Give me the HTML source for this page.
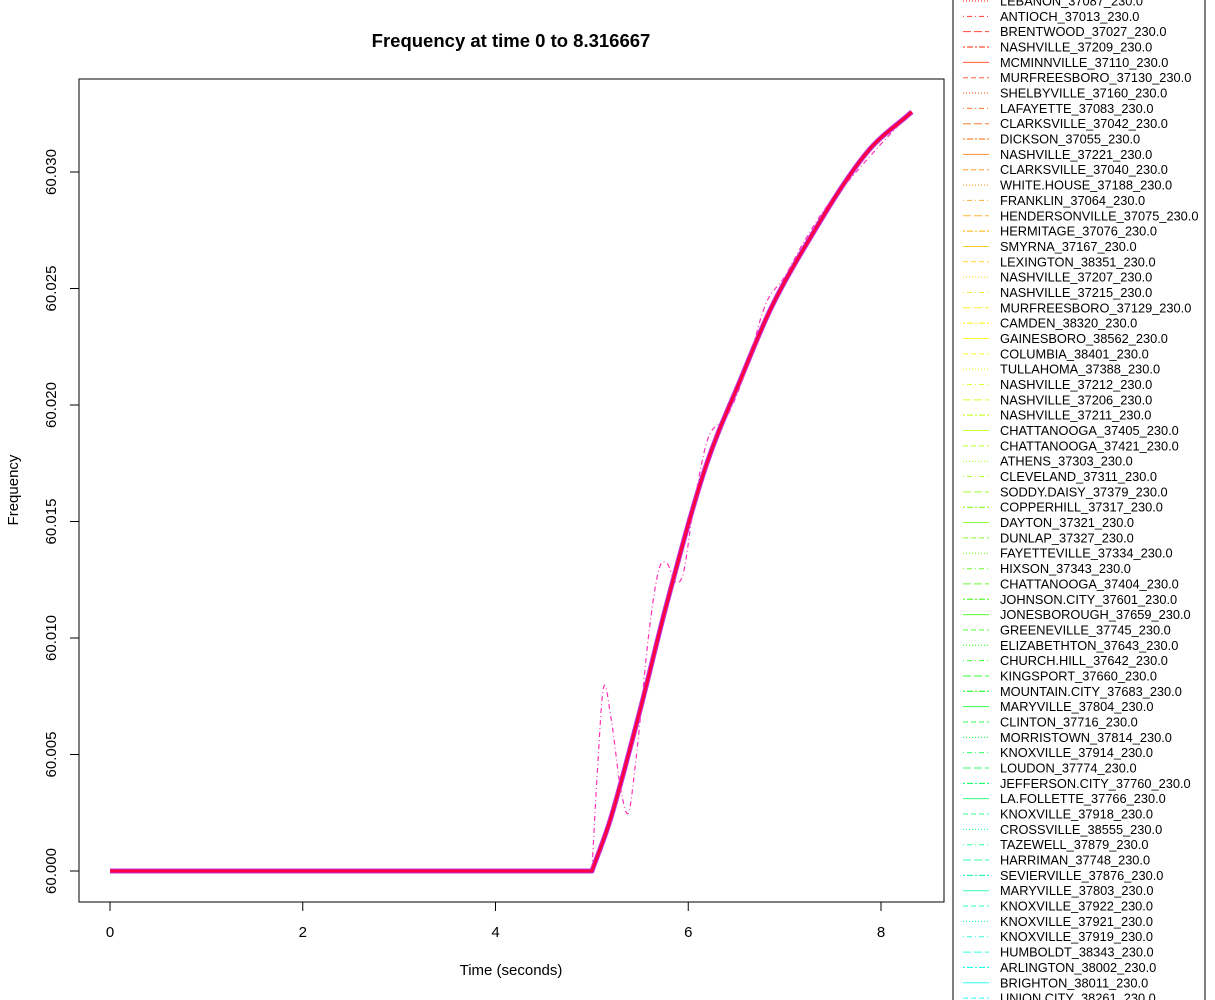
<!DOCTYPE html>
<html><head><meta charset="utf-8"><style>
html,body{margin:0;padding:0;background:#fff;width:1215px;height:1000px;overflow:hidden}
svg{display:block;font-family:"Liberation Sans",Arial,sans-serif}
</style></head><body>
<svg id="chart" width="1215" height="1000" viewBox="0 0 1215 1000">
<text x="511" y="47" text-anchor="middle" font-size="18.5" font-weight="bold">Frequency at time 0 to 8.316667</text>
<rect x="79" y="79" width="865" height="823" fill="none" stroke="#000" stroke-width="1"/>
<g id="xaxis"></g>
<g id="yaxis"></g>
<text x="511" y="975" text-anchor="middle" font-size="15">Time (seconds)</text>
<text transform="translate(18,490) rotate(-90)" text-anchor="middle" font-size="15">Frequency</text>
<g id="series"></g>
<rect x="953" y="-5" width="252" height="1010" fill="#fff" stroke="#000" stroke-width="1"/>
<g id="legend"></g>
</svg>
<script>
const xTicks=[0,2,4,6,8];
const yTicks=[60.000,60.005,60.010,60.015,60.020,60.025,60.030];
const yTickLabels=["60.000","60.005","60.010","60.015","60.020","60.025","60.030"];
const mainTime=[0,5.0,5.19,5.50,5.76,6.18,6.54,6.85,7.19,7.85,8.32];
const mainFreq=[60,60,60.00219,60.00691,60.0112,60.01734,60.02107,60.02408,60.02665,60.03082,60.03258];
const outTime=[0,5.0,5.06,5.12,5.2,5.3,5.38,5.45,5.6,5.7,5.78,5.87,5.95,6.05,6.2,6.4,6.6,6.8,7.0,7.2,7.45,7.7,8.0,8.32];
const outFreq=[60,60,60.0045,60.00785,60.0065,60.0035,60.0025,60.0045,60.0105,60.0130,60.0132,60.0124,60.0128,60.0155,60.0185,60.0195,60.0215,60.0243,60.0255,60.0270,60.0286,60.0298,60.0312,60.0326];
const legendNames=["LEBANON_37087_230.0","ANTIOCH_37013_230.0","BRENTWOOD_37027_230.0","NASHVILLE_37209_230.0","MCMINNVILLE_37110_230.0","MURFREESBORO_37130_230.0","SHELBYVILLE_37160_230.0","LAFAYETTE_37083_230.0","CLARKSVILLE_37042_230.0","DICKSON_37055_230.0","NASHVILLE_37221_230.0","CLARKSVILLE_37040_230.0","WHITE.HOUSE_37188_230.0","FRANKLIN_37064_230.0","HENDERSONVILLE_37075_230.0","HERMITAGE_37076_230.0","SMYRNA_37167_230.0","LEXINGTON_38351_230.0","NASHVILLE_37207_230.0","NASHVILLE_37215_230.0","MURFREESBORO_37129_230.0","CAMDEN_38320_230.0","GAINESBORO_38562_230.0","COLUMBIA_38401_230.0","TULLAHOMA_37388_230.0","NASHVILLE_37212_230.0","NASHVILLE_37206_230.0","NASHVILLE_37211_230.0","CHATTANOOGA_37405_230.0","CHATTANOOGA_37421_230.0","ATHENS_37303_230.0","CLEVELAND_37311_230.0","SODDY.DAISY_37379_230.0","COPPERHILL_37317_230.0","DAYTON_37321_230.0","DUNLAP_37327_230.0","FAYETTEVILLE_37334_230.0","HIXSON_37343_230.0","CHATTANOOGA_37404_230.0","JOHNSON.CITY_37601_230.0","JONESBOROUGH_37659_230.0","GREENEVILLE_37745_230.0","ELIZABETHTON_37643_230.0","CHURCH.HILL_37642_230.0","KINGSPORT_37660_230.0","MOUNTAIN.CITY_37683_230.0","MARYVILLE_37804_230.0","CLINTON_37716_230.0","MORRISTOWN_37814_230.0","KNOXVILLE_37914_230.0","LOUDON_37774_230.0","JEFFERSON.CITY_37760_230.0","LA.FOLLETTE_37766_230.0","KNOXVILLE_37918_230.0","CROSSVILLE_38555_230.0","TAZEWELL_37879_230.0","HARRIMAN_37748_230.0","SEVIERVILLE_37876_230.0","MARYVILLE_37803_230.0","KNOXVILLE_37922_230.0","KNOXVILLE_37921_230.0","KNOXVILLE_37919_230.0","HUMBOLDT_38343_230.0","ARLINGTON_38002_230.0","BRIGHTON_38011_230.0","UNION.CITY_38261_230.0"];

const NS="http://www.w3.org/2000/svg";
const X=t=>110+t*96.375;
const Y=f=>871-(f-60)*23300;
function mk(tag,attrs,parent){const e=document.createElementNS(NS,tag);for(const k in attrs)e.setAttribute(k,attrs[k]);parent.appendChild(e);return e;}
const xa=document.getElementById('xaxis');
mk('line',{x1:X(xTicks[0]),x2:X(xTicks[xTicks.length-1]),y1:902,y2:902,stroke:'#000'},xa);
xTicks.forEach(t=>{
  const l=mk('line',{x1:X(t),x2:X(t),y1:902,y2:911,stroke:'#000'},xa);
  
  
  const tx=mk('text',{x:X(t),y:937,'text-anchor':'middle','font-size':15},xa);
  tx.textContent=String(t);
  
  
});
const ya=document.getElementById('yaxis');
mk('line',{x1:79,x2:79,y1:Y(yTicks[0]),y2:Y(yTicks[yTicks.length-1]),stroke:'#000'},ya);
yTicks.forEach((v,i)=>{
  const l=mk('line',{x1:70,x2:79,y1:Y(v),y2:Y(v),stroke:'#000'},ya);
  
  
  const tx=mk('text',{transform:`translate(56,${Y(v)}) rotate(-90)`,'text-anchor':'middle','font-size':15},ya);
  tx.textContent=yTickLabels[i];
  
  
});
const sg=document.getElementById('series');
// straight first segment (flat pre-event), then x-monotone cubic Hermite through the rest
function smooth(ts,fs){
  const p=ts.map((t,i)=>[X(t),Y(fs[i])]);
  let d='M'+p[0][0].toFixed(1)+','+p[0][1].toFixed(1)+' L'+p[1][0].toFixed(1)+','+p[1][1].toFixed(1);
  const q=p.slice(1), n=q.length;
  const sec=[];for(let i=0;i<n-1;i++)sec.push((q[i+1][1]-q[i][1])/(q[i+1][0]-q[i][0]));
  const m=q.map((_,i)=>i===0?sec[0]:i===n-1?sec[n-2]:(sec[i-1]+sec[i])/2);
  for(let i=0;i<n-1;i++){
    const h=q[i+1][0]-q[i][0];
    d+=` C${(q[i][0]+h/3).toFixed(1)},${(q[i][1]+m[i]*h/3).toFixed(1)} ${(q[i+1][0]-h/3).toFixed(1)},${(q[i+1][1]-m[i+1]*h/3).toFixed(1)} ${q[i+1][0].toFixed(1)},${q[i+1][1].toFixed(1)}`;
  }
  return d;
}
const band=mk('path',{d:smooth(mainTime,mainFreq),fill:'none',stroke:'#c030e0','stroke-width':5,'stroke-linejoin':'round'},sg);


const outl=mk('path',{d:smooth(outTime,outFreq),fill:'none',stroke:'#ff30b8','stroke-width':1.2,'stroke-dasharray':'1,3,5,3'},sg);


const ml=mk('path',{d:smooth(mainTime,mainFreq),fill:'none',stroke:'#ff0040','stroke-width':3,'stroke-linejoin':'round'},sg);



const lg=document.getElementById('legend');
const dashes=['', '5,3', '1,2', '1,3,5,3', '8,3', '2,2,6,2'];
legendNames.forEach((n,i)=>{
  const y=1+i*15.34;
  const hue=i*2.75;
  const g=mk('g',{},lg);
  
  
  const d=dashes[(i+2)%6];
  const a={x1:963,x2:989,y1:y,y2:y,stroke:`hsl(${hue},100%,${i%3===0?50:60}%)`,'stroke-width':1};
  if(d)a['stroke-dasharray']=d;
  mk('line',a,g);
  const t=mk('text',{x:1000,y:y+4.5,'font-size':12.8},g);
  t.textContent=n;
});
</script>
</body></html>
